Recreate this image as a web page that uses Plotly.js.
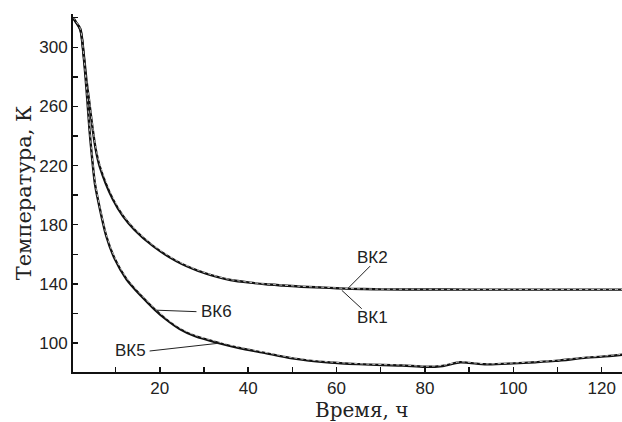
<!DOCTYPE html>
<html>
<head>
<meta charset="utf-8">
<script src="https://cdn.plot.ly/plotly-3.0.1.min.js"></script>
<style>html,body{margin:0;padding:0;background:#fff;}#chart{width:622px;height:422px;}</style>
</head>
<body>
<div id="chart"></div>
<script>
// Upper pair (ВК1 / ВК2)
const timeUpper = [0.4, 0.8, 2.0, 2.8, 3.4, 4.0, 4.8, 5.5, 6.4, 9.4, 11.7, 14.3, 18.5, 23.8, 28.7, 32.8, 36, 40.4, 44, 47.9, 52, 58.5, 62, 66, 70, 80, 90, 100, 110, 120, 125];
const bk1 = [320, 318, 312.5, 295, 278, 264, 245, 231, 219.5, 197, 185.7, 176.5, 165.5, 155.3, 148.8, 144.9, 142.6, 140.8, 139.7, 138.9, 138.1, 137.3, 136.8, 136.5, 136.3, 136.2, 136.1, 136.1, 136.1, 136.1, 136.1];
const bk2 = [320.5, 318.5, 313, 296, 279.5, 265.5, 246.5, 232.5, 221, 198.5, 186.6, 177.2, 166.1, 155.8, 149.2, 145.2, 142.9, 141, 139.9, 139.1, 138.3, 137.5, 136.9, 136.6, 136.4, 136.3, 136.2, 136.2, 136.2, 136.2, 136.2];
// Lower pair (ВК5 / ВК6)
const timeLower = [0.4, 0.8, 2.0, 2.8, 3.6, 4.1, 4.5, 5.3, 6.0, 7.9, 9.8, 12.5, 15.9, 18.9, 21.5, 24.5, 28, 33.6, 38, 43.4, 50, 58.5, 65, 70.5, 75, 80, 84, 88, 90, 94, 100, 105, 109.5, 116.6, 120, 125];
const bk5 = [320, 318, 312, 293, 264.4, 244, 230.7, 208.2, 197, 172.2, 157, 143, 131.5, 122.5, 115.8, 109.5, 104.6, 99.8, 96.6, 93.5, 89.6, 86.8, 85.7, 85.1, 84.8, 83.9, 84.5, 87.0, 86.6, 85.6, 86.2, 87.0, 87.9, 90.1, 90.8, 92.2];
const bk6 = [320.5, 318.5, 312.5, 294, 265.5, 245, 232, 209.5, 198, 173.2, 158, 144, 132.3, 123.3, 116.6, 110.3, 105.3, 100.5, 97.2, 94, 90.1, 87.2, 86.0, 85.4, 85.1, 84.3, 84.9, 87.3, 86.9, 85.9, 86.5, 87.3, 88.2, 90.4, 91.1, 92.5];

const xTickStep = 20, xMinorStep = 10;
const yTickStep = 40, yMinorStep = 20;

const labelFont = {family: 'Liberation Sans, Arial, sans-serif', size: 17, color: '#222'};
const serifFont = {family: 'DejaVu Serif, serif', size: 21, color: '#222'};

const traces = [
  {x: timeUpper, y: bk1, name: 'ВК1', mode: 'lines', line: {color: '#111', width: 2.4, shape: 'spline', smoothing: 0.8}},
  {x: timeUpper, y: bk2, name: 'ВК2', mode: 'lines', line: {color: '#e6e6e6', width: 0.8, dash: 'dot', shape: 'spline', smoothing: 0.8}},
  {x: timeLower, y: bk5, name: 'ВК5', mode: 'lines', line: {color: '#111', width: 2.4, shape: 'spline', smoothing: 0.8}},
  {x: timeLower, y: bk6, name: 'ВК6', mode: 'lines', line: {color: '#e6e6e6', width: 0.8, dash: 'dot', shape: 'spline', smoothing: 0.8}}
];

const axisCommon = {
  showline: true, linecolor: '#111', linewidth: 2,
  ticks: 'inside', ticklen: 5, tickwidth: 1.5, tickcolor: '#111',
  showgrid: false, zeroline: false,
  tickfont: {family: 'Liberation Sans, Arial, sans-serif', size: 17, color: '#222'}
};

const layout = {
  width: 622, height: 422,
  margin: {l: 73, r: 0, t: 14, b: 50},
  paper_bgcolor: '#fff', plot_bgcolor: '#fff',
  showlegend: false,
  xaxis: Object.assign({}, axisCommon, {
    range: [0.36, 124.6], tick0: 0, dtick: xTickStep,
    minor: {dtick: xMinorStep, ticks: 'inside', ticklen: 5, tickwidth: 1.5, tickcolor: '#111'}
  }),
  yaxis: Object.assign({}, axisCommon, {
    range: [80.4, 322.5], tick0: 100, dtick: yTickStep,
    minor: {dtick: yMinorStep, ticks: 'inside', ticklen: 5, tickwidth: 1.5, tickcolor: '#111'},
    title: {text: 'Температура, К', font: serifFont, standoff: 2}
  }),
  shapes: [
    {type: 'line', xref: 'x', yref: 'y', x0: 62.6, y0: 137.0, x1: 67.6, y1: 152, line: {color: '#222', width: 1}},
    {type: 'line', xref: 'x', yref: 'y', x0: 61.2, y0: 135.6, x1: 65.7, y1: 123.2, line: {color: '#222', width: 1}},
    {type: 'line', xref: 'x', yref: 'y', x0: 19.3, y0: 122.2, x1: 28.3, y1: 121.2, line: {color: '#222', width: 1}},
    {type: 'line', xref: 'x', yref: 'y', x0: 17.7, y0: 94.6, x1: 33.2, y1: 99.8, line: {color: '#222', width: 1}}
  ],
  annotations: [
    {x: 68.2, y: 157.8, xref: 'x', yref: 'y', text: 'ВК2', showarrow: false, font: labelFont},
    {x: 68.2, y: 117.3, xref: 'x', yref: 'y', text: 'ВК1', showarrow: false, font: labelFont},
    {x: 32.9, y: 121.4, xref: 'x', yref: 'y', text: 'ВК6', showarrow: false, font: labelFont},
    {x: 13.4, y: 95.0, xref: 'x', yref: 'y', text: 'ВК5', showarrow: false, font: labelFont},
    {x: 0.5246, y: -0.107, xref: 'paper', yref: 'paper', xanchor: 'center', yanchor: 'middle', text: 'Время, ч', showarrow: false, font: {family: 'DejaVu Serif, serif', size: 20, color: '#222'}}
  ]
};

Plotly.newPlot('chart', traces, layout, {displayModeBar: false, staticPlot: true});
</script>
</body>
</html>
